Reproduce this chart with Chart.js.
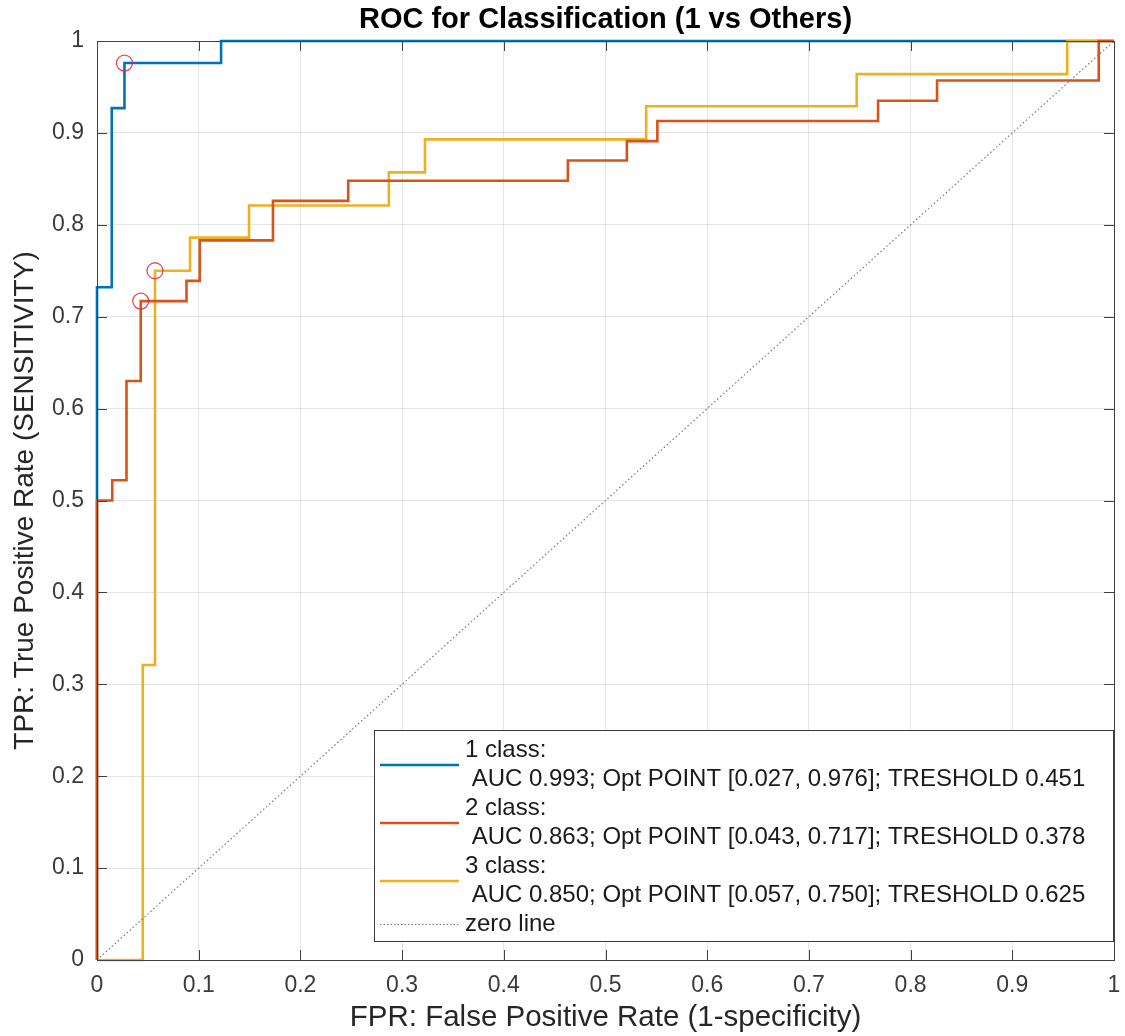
<!DOCTYPE html>
<html>
<head>
<meta charset="utf-8">
<script src="https://cdn.jsdelivr.net/npm/chart.js@4.4.0/dist/chart.umd.min.js"></script>
<style>
  html, body { margin: 0; padding: 0; background: #ffffff; }
  #wrap { width: 1125px; height: 1036px; }
</style>
</head>
<body>
<div id="wrap"><canvas id="c" width="1125" height="1036"></canvas></div>
<script>
// ---------- data ----------
const chartTitle = 'ROC for Classification (1 vs Others)';
const xAxisTitle = 'FPR: False Positive Rate (1-specificity)';
const yAxisTitle = 'TPR: True Positive Rate (SENSITIVITY)';

const xTickValues = [0, 0.1, 0.2, 0.3, 0.4, 0.5, 0.6, 0.7, 0.8, 0.9, 1];
const xTickLabels = ['0', '0.1', '0.2', '0.3', '0.4', '0.5', '0.6', '0.7', '0.8', '0.9', '1'];
const yTickValues = [0, 0.1, 0.2, 0.3, 0.4, 0.5, 0.6, 0.7, 0.8, 0.9, 1];
const yTickLabels = ['0', '0.1', '0.2', '0.3', '0.4', '0.5', '0.6', '0.7', '0.8', '0.9', '1'];

// class 1 ROC corner points
const fpr1 = [0, 0, 0.0145, 0.0145, 0.027, 0.027, 0.122, 0.122, 1];
const tpr1 = [0, 0.732, 0.732, 0.927, 0.927, 0.976, 0.976, 1, 1];

// class 2 ROC corner points
const fpr2 = [0, 0, 0.015, 0.015, 0.029, 0.029, 0.043, 0.043, 0.088, 0.088, 0.101, 0.101,
              0.173, 0.173, 0.247, 0.247, 0.463, 0.463, 0.521, 0.521, 0.551, 0.551,
              0.768, 0.768, 0.826, 0.826, 0.985, 0.985, 1];
const tpr2 = [0, 0.5, 0.5, 0.522, 0.522, 0.630, 0.630, 0.717, 0.717, 0.739, 0.739, 0.783,
              0.783, 0.826, 0.826, 0.848, 0.848, 0.870, 0.870, 0.891, 0.891, 0.913,
              0.913, 0.935, 0.935, 0.957, 0.957, 1, 1];

// class 3 ROC corner points
const fpr3 = [0, 0.045, 0.045, 0.057, 0.057, 0.0915, 0.0915, 0.1495, 0.1495, 0.287, 0.287,
              0.3225, 0.3225, 0.540, 0.540, 0.747, 0.747, 0.954, 0.954, 1];
const tpr3 = [0, 0, 0.321, 0.321, 0.750, 0.750, 0.786, 0.786, 0.821, 0.821, 0.857,
              0.857, 0.893, 0.893, 0.929, 0.929, 0.964, 0.964, 1, 1];

// zero (chance) line
const zeroX = [0, 1];
const zeroY = [0, 1];

// legend / optimal points
const classNames = ['1 class:', '2 class:', '3 class:'];
const aucValues = [0.993, 0.863, 0.850];
const optFpr = [0.027, 0.043, 0.057];
const optTpr = [0.976, 0.717, 0.750];
const thresholds = [0.451, 0.378, 0.625];
const zeroLineLabel = 'zero line';

// ---------- styles ----------
const FONT = '"Liberation Sans", Arial, Helvetica, sans-serif';
const classColors = ['#0072BD', '#D95319', '#EDB120'];
const zeroColor = '#7a7a7a';
const optColor = 'rgba(225, 40, 70, 0.85)';

const toPts = (xs, ys) => xs.map((x, i) => ({ x: x, y: ys[i] }));

const legendLines = classNames.map((n, i) => [
  n,
  ' AUC ' + aucValues[i].toFixed(3) + '; Opt POINT [' + optFpr[i].toFixed(3) + ', ' +
    optTpr[i].toFixed(3) + ']; TRESHOLD ' + thresholds[i].toFixed(3)
]);

const titlePlugin = {
  id: 'matlabTitle',
  afterDraw(chart) {
    const ctx = chart.ctx, a = chart.chartArea;
    ctx.save();
    ctx.font = 'bold 29px ' + FONT;
    ctx.fillStyle = '#000000';
    ctx.textAlign = 'center';
    ctx.textBaseline = 'middle';
    ctx.fillText(chartTitle, (a.left + a.right) / 2, 20);
    ctx.restore();
  }
};

const boxPlugin = {
  id: 'matlabBox',
  afterDatasetsDraw(chart) {
    const ctx = chart.ctx, a = chart.chartArea;
    const xs = chart.scales.x, ys = chart.scales.y;
    ctx.save();
    ctx.strokeStyle = '#404040';
    ctx.lineWidth = 1;
    ctx.beginPath();
    xTickValues.forEach(v => {
      const px = Math.round(xs.getPixelForValue(v)) + 0.5;
      ctx.moveTo(px, a.bottom); ctx.lineTo(px, a.bottom - 10);
      ctx.moveTo(px, a.top); ctx.lineTo(px, a.top + 10);
    });
    yTickValues.forEach(v => {
      const py = Math.round(ys.getPixelForValue(v)) + 0.5;
      ctx.moveTo(a.left, py); ctx.lineTo(a.left + 10, py);
      ctx.moveTo(a.right, py); ctx.lineTo(a.right - 10, py);
    });
    ctx.stroke();
    ctx.strokeRect(Math.round(a.left) + 0.5, Math.round(a.top) + 0.5,
                   Math.round(a.right - a.left), Math.round(a.bottom - a.top));
    ctx.restore();
  }
};

const legendPlugin = {
  id: 'matlabLegend',
  afterDraw(chart) {
    const ctx = chart.ctx, a = chart.chartArea;
    const left = 374, right = a.right - 1, top = 730, bottom = 941;
    const lineH = 29;
    const textX = 465, lx0 = 380, lx1 = 459;
    ctx.save();
    ctx.fillStyle = '#ffffff';
    ctx.fillRect(left, top, right - left, bottom - top);
    ctx.strokeStyle = '#3a3a3a';
    ctx.lineWidth = 1;
    ctx.strokeRect(left + 0.5, top + 0.5, right - left, bottom - top);
    ctx.font = '24px ' + FONT;
    ctx.fillStyle = '#1a1a1a';
    ctx.textAlign = 'left';
    ctx.textBaseline = 'middle';
    let y = 750;
    legendLines.forEach((pair, i) => {
      ctx.fillText(pair[0], textX, y);
      ctx.fillText(pair[1], textX, y + lineH);
      const ly = Math.round(y + lineH / 2 + 0.5);
      ctx.strokeStyle = classColors[i];
      ctx.lineWidth = 2.5;
      ctx.setLineDash([]);
      ctx.beginPath(); ctx.moveTo(lx0, ly); ctx.lineTo(lx1, ly); ctx.stroke();
      y += lineH * 2;
    });
    ctx.fillText(zeroLineLabel, textX, y);
    ctx.strokeStyle = zeroColor;
    ctx.lineWidth = 1.2;
    ctx.setLineDash([1.5, 2]);
    ctx.beginPath(); ctx.moveTo(lx0, y + 0.5); ctx.lineTo(lx1, y + 0.5); ctx.stroke();
    ctx.restore();
  }
};

const lineDs = (label, pts, color, order) => ({
  label: label, data: pts, borderColor: color, backgroundColor: color,
  borderWidth: 2.6, pointRadius: 0, pointHoverRadius: 0, tension: 0,
  clip: false, order: order
});

new Chart(document.getElementById('c'), {
  type: 'line',
  data: {
    datasets: [
      lineDs(classNames[0], toPts(fpr1, tpr1), classColors[0], 50),
      lineDs(classNames[2], toPts(fpr3, tpr3), classColors[2], 40),
      lineDs(classNames[1], toPts(fpr2, tpr2), classColors[1], 30),
      {
        label: zeroLineLabel, data: toPts(zeroX, zeroY), borderColor: zeroColor,
        borderWidth: 1.2, borderDash: [1.5, 2.5], pointRadius: 0, clip: false, order: 20
      },
      {
        label: 'Opt points', data: toPts(optFpr, optTpr), showLine: false,
        pointStyle: 'circle', pointRadius: 8, pointBorderWidth: 1.3,
        pointBorderColor: optColor, pointBackgroundColor: 'rgba(0,0,0,0)',
        pointHoverRadius: 8, clip: false, order: 10
      }
    ]
  },
  options: {
    responsive: false,
    animation: false,
    devicePixelRatio: 1,
    layout: { padding: { left: 0, right: 11, top: 41, bottom: 0 } },
    plugins: { legend: { display: false }, tooltip: { enabled: false }, title: { display: false } },
    events: [],
    scales: {
      x: {
        type: 'linear', min: 0, max: 1,
        afterBuildTicks: s => { s.ticks = xTickValues.map(v => ({ value: v })); },
        afterFit: s => { s.height = 76; s.paddingLeft = 0; s.paddingRight = 0; },
        ticks: {
          callback: (v, i) => xTickLabels[i],
          font: { family: FONT, size: 23 }, color: '#3a3a3a',
          padding: 12, maxRotation: 0, autoSkip: false
        },
        grid: { color: 'rgba(0,0,0,0.10)', lineWidth: 1, drawTicks: false },
        border: { display: true, color: '#404040', width: 1 },
        title: {
          display: true, text: xAxisTitle, color: '#262626',
          font: { family: FONT, size: 29.5 }, padding: { top: 0, bottom: 0 }
        }
      },
      y: {
        type: 'linear', min: 0, max: 1,
        afterBuildTicks: s => { s.ticks = yTickValues.map(v => ({ value: v })); },
        afterFit: s => { s.width = 97; s.paddingTop = 0; s.paddingBottom = 0; },
        ticks: {
          callback: (v, i) => yTickLabels[i],
          font: { family: FONT, size: 23 }, color: '#3a3a3a',
          padding: 13, autoSkip: false
        },
        grid: { color: 'rgba(0,0,0,0.10)', lineWidth: 1, drawTicks: false },
        border: { display: true, color: '#404040', width: 1 },
        title: {
          display: true, text: yAxisTitle, color: '#262626',
          font: { family: FONT, size: 28 }, padding: { top: 8, bottom: 0 }
        }
      }
    }
  },
  plugins: [boxPlugin, legendPlugin, titlePlugin]
});
</script>
</body>
</html>
